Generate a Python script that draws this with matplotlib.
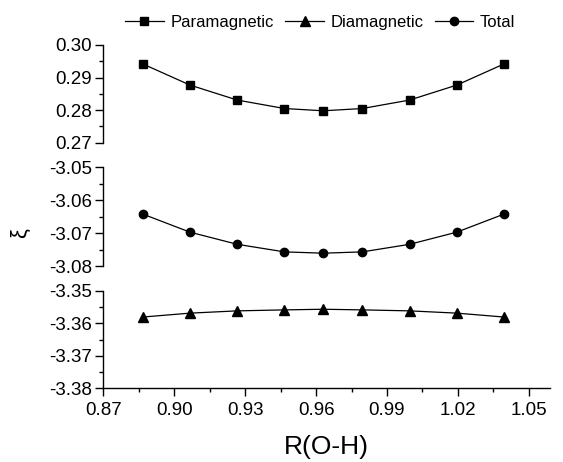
import matplotlib
matplotlib.use("Agg")
import matplotlib.pyplot as plt
import matplotlib.ticker as ticker

# ---- data ----
r_oh = [0.8866, 0.9066, 0.9266, 0.9466, 0.9631, 0.9796, 0.9996, 1.0196, 1.0396]
paramagnetic = [0.2942, 0.2877, 0.2831, 0.2805, 0.2798, 0.2805, 0.2831, 0.2877, 0.2942]
diamagnetic = [-3.3581, -3.3569, -3.3562, -3.3559, -3.3557, -3.3559, -3.3562, -3.3569, -3.3581]
total = [-3.0642, -3.0697, -3.0734, -3.0757, -3.0761, -3.0757, -3.0734, -3.0697, -3.0642]

para_lim = (0.27, 0.30)
total_lim = (-3.08, -3.05)
dia_lim = (-3.38, -3.35)
x_lim = (0.87, 1.059)

plt.rcParams.update({
    'font.family': ['Liberation Sans', 'DejaVu Sans'],
    'font.size': 12,
    'axes.unicode_minus': False,
    'axes.linewidth': 1.0,
})

fig = plt.figure(figsize=(5.63, 4.62), dpi=100)
left, width = 0.1838, 0.793
ax_p = fig.add_axes([left, 0.6911, width, 0.2115])
ax_t = fig.add_axes([left, 0.4242, width, 0.2136])
ax_d = fig.add_axes([left, 0.1595, width, 0.2113])

lp, = ax_p.plot(r_oh, paramagnetic, color='black', lw=0.9, marker='s', ms=5.5, label='Paramagnetic')
lt, = ax_t.plot(r_oh, total, color='black', lw=0.9, marker='o', ms=6, label='Total')
ld, = ax_d.plot(r_oh, diamagnetic, color='black', lw=0.9, marker='^', ms=6.5, label='Diamagnetic')

for ax, lim in [(ax_p, para_lim), (ax_t, total_lim), (ax_d, dia_lim)]:
    ax.set_xlim(*x_lim)
    ax.set_ylim(*lim)
    ax.spines['top'].set_visible(False)
    ax.spines['right'].set_visible(False)
    ax.yaxis.set_major_locator(ticker.MultipleLocator(0.01))
    ax.yaxis.set_minor_locator(ticker.MultipleLocator(0.005))
    ax.yaxis.set_major_formatter(ticker.FormatStrFormatter('%.2f'))
    ax.tick_params(axis='y', which='major', direction='out', length=5.5, width=1, labelsize=13.5, pad=3)
    ax.tick_params(axis='y', which='minor', direction='out', length=3, width=1)
    ax.patch.set_visible(False)

for ax in (ax_p, ax_t):
    ax.spines['bottom'].set_visible(False)
    ax.tick_params(axis='x', which='both', bottom=False, labelbottom=False)

ax_d.xaxis.set_major_locator(ticker.MultipleLocator(0.03))
ax_d.xaxis.set_minor_locator(ticker.MultipleLocator(0.015))
ax_d.xaxis.set_major_formatter(ticker.FormatStrFormatter('%.2f'))
ax_d.tick_params(axis='x', which='major', direction='out', length=5.5, width=1, labelsize=13.5, pad=4)
ax_d.tick_params(axis='x', which='minor', direction='out', length=3, width=1)
ax_d.set_xlabel('R(O-H)', fontsize=19, labelpad=12)

fig.text(0.036, 0.496, 'ξ', rotation=90, fontsize=16, ha='center', va='center')

fig.legend(handles=[lp, ld, lt], loc='center', bbox_to_anchor=(0.569, 0.951),
           ncol=3, frameon=False, fontsize=12, handlelength=2.3,
           handletextpad=0.4, columnspacing=0.7, borderaxespad=0, borderpad=0)

fig.savefig('out.png', dpi=100)
